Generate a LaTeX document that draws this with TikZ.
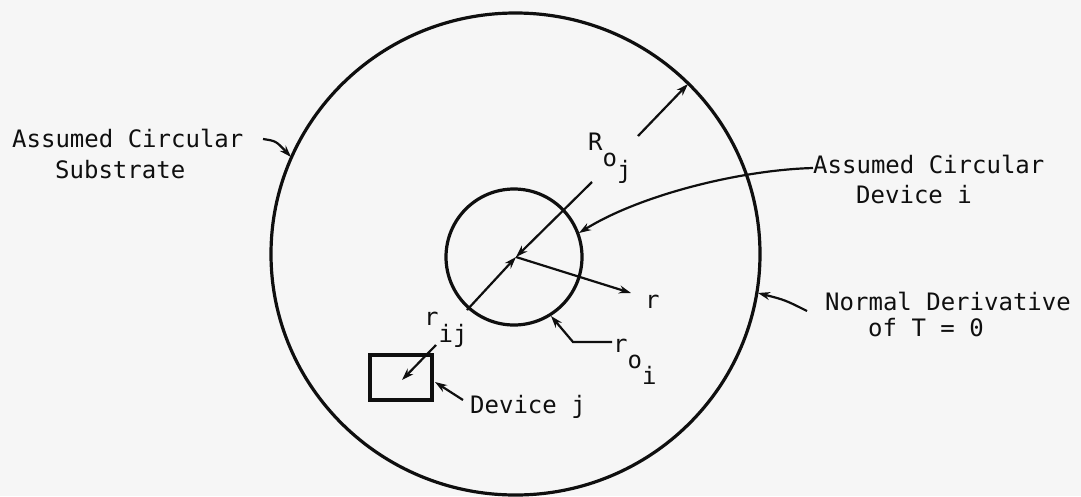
\documentclass[tikz,border=0pt]{standalone}
\usepackage{fontspec}
\setmainfont{DejaVu Sans Mono}
\usetikzlibrary{arrows.meta}
\definecolor{ink}{RGB}{15,15,15}
\definecolor{paper}{RGB}{246,246,246}
\begin{document}
\begin{tikzpicture}[x=1pt,y=-1pt,
  lbl/.style={anchor=base west, inner sep=0pt, text=ink, font=\fontsize{24}{30}\selectfont},
  shapeline/.style={line width=3.2pt, draw=ink},
  arr/.style={line width=2.2pt, draw=ink, -{Stealth[length=12pt,width=8pt]}},
  lead/.style={line width=2.2pt, draw=ink}]
\fill[paper] (0,0) rectangle (1081,496);
\useasboundingbox (0,0) rectangle (1081,496);

% shapes
\draw[shapeline] (515.5,254) ellipse [x radius=244.5pt, y radius=241pt];
\draw[shapeline] (514,257) circle [radius=68pt];
\node[shapeline, draw, minimum width=62pt, minimum height=45pt, inner sep=0pt] (dj) at (401,377.5) {};

% coordinates
\coordinate (C) at (516,257);
\coordinate (Rtip) at (688,84);
\coordinate (Rtail1) at (638,136);
\coordinate (Rtail2) at (592,182);
\coordinate (rijA) at (467,310);
\coordinate (rijB) at (436,345);
\coordinate (jc) at (402,380);
\coordinate (rtip) at (631,293);
\coordinate (roiA) at (612,342);
\coordinate (roiB) at (573,342);
\coordinate (roiTip) at (551,316);
\coordinate (devTail) at (813,168);
\coordinate (devTip) at (579,233);
\coordinate (subTail) at (263,139);
\coordinate (subTip) at (291,157);
\coordinate (ndTail) at (807,311);
\coordinate (ndTip) at (758,293);
\coordinate (djTail) at (463,400);
\coordinate (djTip) at (435,382);

% labels
\node[lbl] (sub1) at (12,147) {Assumed Circular};
\node[lbl] (sub2) at (55,178) {Substrate};
\node[lbl] (dev1) at (813,173) {Assumed Circular};
\node[lbl] (dev2) at (856,203) {Device i};
\node[lbl] (nd1) at (825,310) {Normal Derivative};
\node[lbl] (nd2) at (868,336) {of T = 0};
\node[lbl] (Rlab) at (588,150) {R\raisebox{-16pt}{o\raisebox{-12pt}{j}}};
\node[lbl] (rlab) at (645,308) {r};
\node[lbl] (rij) at (424,325) {r\raisebox{-17pt}{ij}};
\node[lbl] (roi) at (613,352) {r\raisebox{-16pt}{o\raisebox{-16pt}{i}}};
\node[lbl] (djlab) at (470,413) {Device j};

% connectors
\draw[arr] (Rtail1) -- (Rtip);
\draw[arr] (Rtail2) -- (C);
\draw[arr] (rijA) -- (C);
\draw[arr] (rijB) -- (jc);
\draw[arr] (C) -- (rtip);
\draw[arr] (roiA) -- (roiB) -- (roiTip);
\draw[arr] (devTail) .. controls (740,170) and (640,195) .. (devTip);
\draw[arr] (subTail) .. controls (276,141) .. (subTip);
\draw[arr] (ndTail) .. controls (785,300) .. (ndTip);
\draw[arr] (djTail) -- (djTip);
\end{tikzpicture}
\end{document}
